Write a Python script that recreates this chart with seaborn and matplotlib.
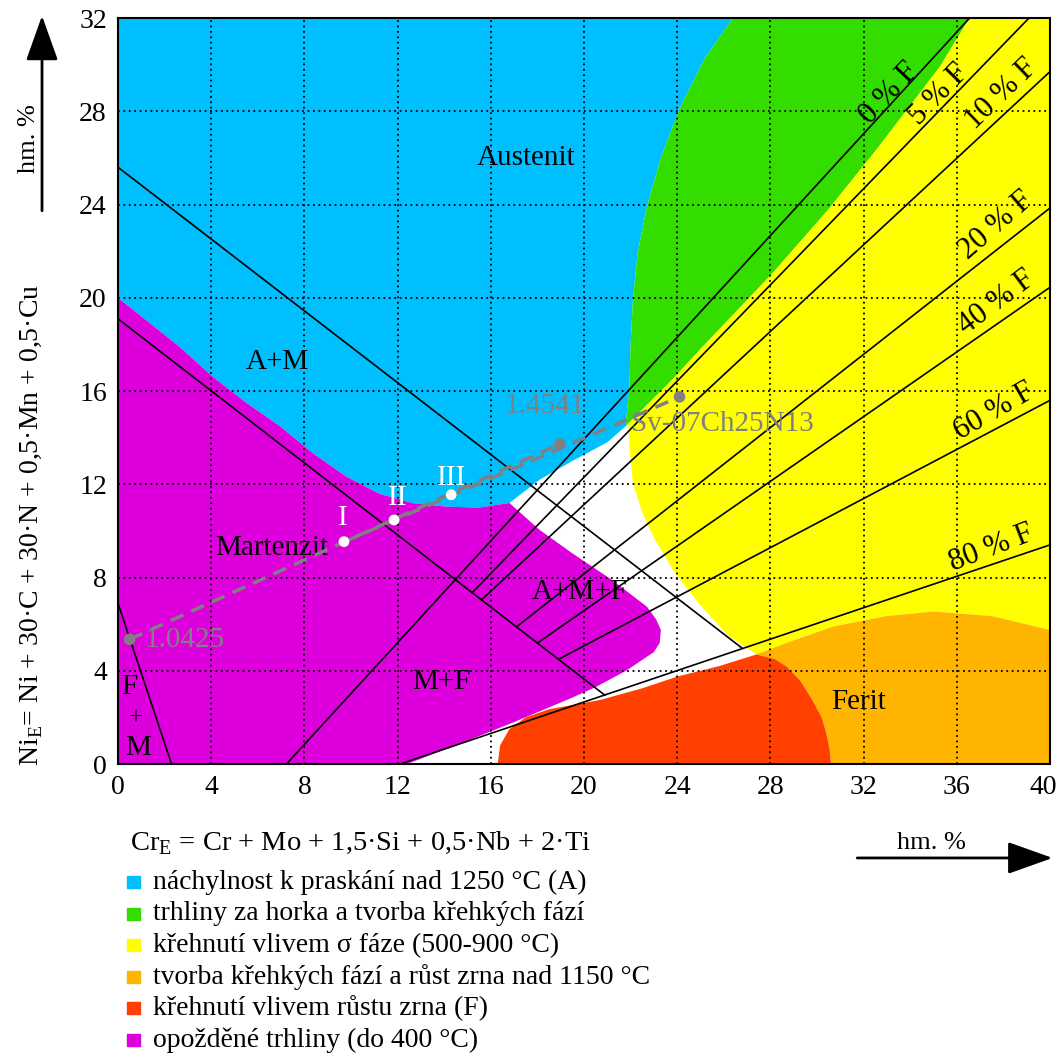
import numpy as np
import pandas as pd
import seaborn as sns
import matplotlib.pyplot as plt
from matplotlib.patches import Rectangle
from matplotlib.transforms import ScaledTranslation

sns.set_style("white")
plt.rcParams['font.family'] = ['Liberation Serif', 'DejaVu Serif']
plt.rcParams['mathtext.fontset'] = 'custom'
plt.rcParams['mathtext.rm'] = 'Liberation Serif'
plt.rcParams['text.color'] = 'black'
plt.rcParams['xtick.color'] = 'black'
plt.rcParams['ytick.color'] = 'black'

# colours of the regions
c_blue = "#00bfff"
c_green = "#33dd00"
c_yellow = "#ffff00"
c_orange = "#ffb400"
c_red = "#ff4000"
c_magenta = "#dd00dd"
c_gray = "#808080"

# region outlines (Cr_E, Ni_E)
austenit_x = [0, 0, 26.4, 25.2, 24.1, 23.3, 22.7, 22.3, 22.1, 22.0, 21.95, 21.85, 21.8, 21.0,
              19.5, 18.1, 16.8, 15.5, 14.1, 12.66, 11.2, 9.8, 8.37, 6.94, 5.5, 4.08, 2.64, 0]
austenit_y = [20, 32, 32, 30.3, 28.1, 26.0, 23.9, 21.9, 19.9, 18.0, 16.05, 15.2, 14.5, 13.8,
              13.0, 12.2, 11.2, 11.0, 11.04, 11.19, 11.6, 12.33, 13.33, 14.5, 15.5, 16.6, 17.9, 20]

green_x = [26.4, 36.55, 35.27, 32.55, 30.5, 28.1, 25.0, 23.8, 23.0, 21.9, 21.8, 21.85, 21.95,
           22.0, 22.1, 22.3, 22.7, 23.3, 24.1, 25.2, 26.4]
green_y = [32, 32, 29.9, 26.35, 23.8, 21.06, 17.8, 16.5, 15.7, 14.6, 14.5, 15.2, 16.05,
           18.0, 19.9, 21.9, 23.9, 26.0, 28.1, 30.3, 32]

sigma_x = [36.55, 40, 40, 37.5, 35.0, 33.0, 30.7, 28.7, 27.4, 26.2, 25.0, 23.9, 23.0, 22.5,
           22.1, 21.96, 21.9, 23.0, 23.8, 25.0, 28.1, 30.5, 32.55, 35.27, 36.55]
sigma_y = [32, 32, 5.75, 6.35, 6.54, 6.35, 5.9, 5.2, 4.7, 5.5, 6.8, 8.2, 9.7, 10.8,
           12.06, 13.5, 14.6, 15.7, 16.5, 17.8, 21.06, 23.8, 26.35, 29.9, 32]

ferit_x = [27.4, 28.7, 30.7, 33.0, 35.0, 37.5, 40, 40, 30.6, 30.55, 30.4, 30.2, 29.8, 29.3,
           28.7, 28.2]
ferit_y = [4.7, 5.2, 5.9, 6.35, 6.54, 6.35, 5.75, 0, 0, 0.6, 1.33, 2.0, 2.75, 3.55,
           4.18, 4.5]

grain_x = [16.3, 16.4, 16.8, 17.5, 18.5, 20.7, 22.5, 24.0, 25.8, 27.4, 28.2, 28.7, 29.3, 29.8,
           30.2, 30.4, 30.55, 30.6]
grain_y = [0, 0.8, 1.5, 2.0, 2.35, 2.75, 3.25, 3.75, 4.2, 4.7, 4.5, 4.18, 3.55, 2.75,
           2.0, 1.33, 0.6, 0]

martenzit_x = [0, 0, 2.64, 4.08, 5.5, 6.94, 8.37, 9.8, 11.2, 12.66, 14.1, 15.5, 16.8, 18.1,
               19.5, 21.2, 22.7, 23.1, 23.3, 23.25, 23.0, 22.4, 21.8, 20.5, 19.5, 17.0, 14.5, 12.4]
martenzit_y = [0, 20, 17.9, 16.6, 15.5, 14.5, 13.33, 12.33, 11.6, 11.19, 11.04, 11.0, 11.2, 10.04,
               9.04, 7.9, 6.75, 6.2, 5.75, 5.2, 4.8, 4.4, 4.0, 3.3, 2.85, 1.8, 0.8, 0]

# phase boundary lines: start and end points
line_names = ["0", "5", "10", "20", "40", "60", "80", "L1", "L2", "FM"]
line_x0 = [7.23, 15.2, 15.6, 17.1, 18.0, 18.9, 12.1, 0, 0, 0]
line_y0 = [0, 7.35, 7.04, 5.88, 5.19, 4.49, 0, 25.6, 19.1, 6.9]
line_x1 = [36.55, 39.1, 40, 40, 40, 40, 40, 26.8, 20.9, 2.3]
line_y1 = [32, 32, 29.7, 23.85, 20.45, 15.6, 9.4, 4.96, 2.95, 0]

# ferrite labels
ferrite_labels = ["0 % F", "5 % F", "10 % F", "20 % F", "40 % F", "60 % F", "80 % F"]
ferrite_lx = [33.1, 35.25, 37.9, 37.7, 37.7, 37.6, 37.5]
ferrite_ly = [28.75, 28.7, 28.75, 23.1, 19.8, 15.1, 9.25]
ferrite_rot = [47, 46, 44, 41, 37, 30, 21]

# dilution lines
mix_seg = ["a", "a", "b", "b"]
mix_x = [0.5, 18.96, 9.73, 24.1]
mix_y = [5.35, 13.73, 9.54, 15.75]
metal_names = ["1.0425", "1.4541", "Sv-07Ch25N13"]
metal_x = [0.5, 18.96, 24.1]
metal_y = [5.35, 13.73, 15.75]
weld_names = ["I", "II", "III"]
weld_x = [9.7, 11.85, 14.3]
weld_y = [9.54, 10.47, 11.55]

legend_labels = [
    "náchylnost k praskání nad 1250 °C (A)",
    "trhliny za horka a tvorba křehkých fází",
    "křehnutí vlivem σ fáze (500-900 °C)",
    "tvorba křehkých fází a růst zrna nad 1150 °C",
    "křehnutí vlivem růstu zrna (F)",
    "opožděné trhliny (do 400 °C)",
]
legend_colors = [c_blue, c_green, c_yellow, c_orange, c_red, c_magenta]

fig = plt.figure(figsize=(10.61, 10.54), dpi=100)
ax = fig.add_axes([0.1112, 0.2751, 0.8784, 0.7078])

for px, py, col in [(austenit_x, austenit_y, c_blue), (green_x, green_y, c_green),
                    (sigma_x, sigma_y, c_yellow), (ferit_x, ferit_y, c_orange),
                    (grain_x, grain_y, c_red), (martenzit_x, martenzit_y, c_magenta)]:
    ax.fill(px, py, color=col, lw=0, zorder=1)

segs = pd.DataFrame({"line": line_names * 2, "cr": line_x0 + line_x1, "ni": line_y0 + line_y1})
sns.lineplot(data=segs, x="cr", y="ni", units="line", estimator=None, sort=False,
             color="black", lw=1.2, legend=False, ax=ax, zorder=3)

mix = pd.DataFrame({"seg": mix_seg, "cr": mix_x, "ni": mix_y})
sns.lineplot(data=mix, x="cr", y="ni", units="seg", estimator=None, sort=False,
             color=c_gray, lw=2.5, dashes=False, legend=False, ax=ax, zorder=4)
for l in ax.lines[-2:]:
    l.set_linestyle((0, (4, 2.5)))

sns.scatterplot(x=metal_x, y=metal_y, color=c_gray, s=70, edgecolor="none", ax=ax, zorder=5)
sns.scatterplot(x=weld_x, y=weld_y, color="white", s=60, edgecolor="none", ax=ax, zorder=5)

ax.set_xlim(0, 40)
ax.set_ylim(0, 32)
ax.set_xticks(range(0, 41, 4))
ax.set_yticks(range(0, 33, 4))
ax.set_xlabel("")
ax.set_ylabel("")
ax.set_axisbelow(False)
ax.grid(True, color="black", linestyle=(0, (1, 2)), lw=1.3)
ax.tick_params(length=0, labelsize=20, pad=8)
last = ax.get_xticklabels()[-1]
last.set_transform(last.get_transform() + ScaledTranslation(-5 / 72, 0, fig.dpi_scale_trans))
for s in ax.spines.values():
    s.set_linestyle((0, (1, 1)))
    s.set_linewidth(1.5)
    s.set_color("black")

# region labels
ax.text(17.5, 26.0, "Austenit", fontsize=21, ha="center", va="center")
ax.text(6.85, 17.25, "A+M", fontsize=21, ha="center", va="center")
ax.text(6.6, 9.27, "Martenzit", fontsize=21, ha="center", va="center")
ax.text(19.8, 7.4, "A+M+F", fontsize=21, ha="center", va="center")
ax.text(13.9, 3.5, "M+F", fontsize=21, ha="center", va="center")
ax.text(31.8, 2.66, "Ferit", fontsize=21, ha="center", va="center")
ax.text(0.15, 3.3, "F", fontsize=21, ha="left", va="center")
ax.text(0.45, 1.97, "+", fontsize=18, ha="left", va="center")
ax.text(0.3, 0.7, "M", fontsize=21, ha="left", va="center")

for lab, lx, ly, rot in zip(ferrite_labels, ferrite_lx, ferrite_ly, ferrite_rot):
    ax.text(lx, ly, lab, fontsize=22, rotation=rot, rotation_mode="anchor",
            ha="center", va="center")

ax.text(1.15, 5.3, metal_names[0], fontsize=21, color=c_gray, ha="left", va="center")
ax.text(18.3, 15.37, metal_names[1], fontsize=21, color=c_gray, ha="center", va="center")
ax.text(22.0, 14.6, metal_names[2], fontsize=21, color=c_gray, ha="left", va="center")
weld_lx = [9.66, 12.0, 14.3]
weld_ly = [10.55, 11.4, 12.27]
for name, wx, wy in zip(weld_names, weld_lx, weld_ly):
    ax.text(wx, wy, name, fontsize=21, color="white", ha="center", va="center")

# axis titles and arrows
fig.text(0.030, 0.502, r"Ni$_\mathregular{E}$= Ni + 30·C + 30·N + 0,5·Mn + 0,5·Cu",
         rotation=90, ha="center", va="center", fontsize=20)
fig.text(0.027, 0.869, "hm. %", rotation=90, ha="center", va="center", fontsize=19)
fig.text(0.1225, 0.200, r"Cr$_\mathregular{E}$ = Cr + Mo + 1,5·Si + 0,5·Nb + 2·Ti",
         ha="left", va="center", fontsize=20.5)
fig.text(0.878, 0.200, "hm. %", ha="center", va="center", fontsize=19)

arrow_style = dict(arrowstyle="-|>,head_length=1.4,head_width=0.5", mutation_scale=20,
                   lw=2, color="black", shrinkA=0, shrinkB=0)
ax.annotate("", xy=(0.0396, 0.985), xytext=(0.0396, 0.80), xycoords="figure fraction",
            textcoords="figure fraction", arrowprops=arrow_style)
ax.annotate("", xy=(0.992, 0.186), xytext=(0.808, 0.186), xycoords="figure fraction",
            textcoords="figure fraction", arrowprops=arrow_style)

# legend
for i, (lab, col) in enumerate(zip(legend_labels, legend_colors)):
    yc = 1 - (882 + i * 31.6) / 1054
    fig.patches.append(Rectangle((127 / 1061, yc - 6 / 1054), 13 / 1061, 12 / 1054,
                                 transform=fig.transFigure, color=col, figure=fig))
    fig.text(153 / 1061, yc, lab, ha="left", va="center", fontsize=20)

plt.savefig("out.png", dpi=100)
